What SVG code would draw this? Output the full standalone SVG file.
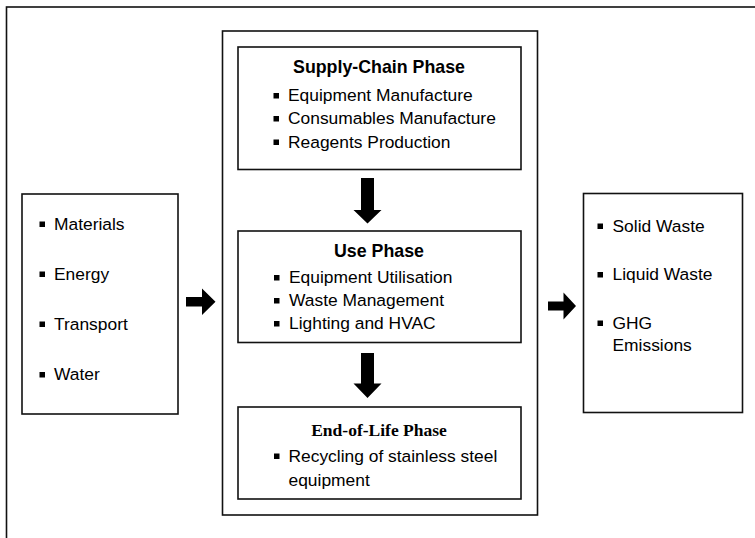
<svg xmlns="http://www.w3.org/2000/svg" width="755" height="538" viewBox="0 0 755 538">
  <defs>
    <style>
      .frame { fill: #ffffff; stroke: #111111; stroke-width: 1.6; }
      .txt { font-family: "Liberation Sans", Arial, sans-serif; font-size: 17.4px; fill: #000000; }
      .head { font-family: "Liberation Sans", Arial, sans-serif; font-size: 17.8px; font-weight: bold; fill: #000000; text-anchor: middle; }
      .head-serif { font-family: "Liberation Serif", "Times New Roman", serif; font-size: 17.5px; font-weight: bold; fill: #000000; text-anchor: middle; }
      .arrow { fill: #000000; }
    </style>
    <rect id="bullet" x="0" y="0" width="5.5" height="5.5" fill="#000000"/>
  </defs>

  <rect width="755" height="538" fill="#ffffff"/>

  <!-- outer frame, running past the right and bottom edges -->
  <rect class="frame" x="6.5" y="7" width="800" height="600"/>

  <!-- life-cycle container -->
  <g id="lifecycle">
    <rect class="frame" x="222.5" y="31" width="315" height="484"/>
  </g>

  <!-- inputs -->
  <g id="inputs">
    <rect class="frame" x="22" y="194" width="156" height="220"/>
    <use href="#bullet" x="39.5" y="221.5"/>
    <text class="txt" x="54" y="229.5">Materials</text>
    <use href="#bullet" x="39.5" y="271.5"/>
    <text class="txt" x="54" y="279.5">Energy</text>
    <use href="#bullet" x="39.5" y="321.5"/>
    <text class="txt" x="54" y="329.5">Transport</text>
    <use href="#bullet" x="39.5" y="372"/>
    <text class="txt" x="54" y="380">Water</text>
  </g>

  <!-- supply-chain phase -->
  <g id="supply-chain">
    <rect class="frame" x="238" y="47" width="283" height="122.5"/>
    <text class="head" x="379" y="72.5">Supply-Chain Phase</text>
    <use href="#bullet" x="273.5" y="93"/>
    <text class="txt" x="288" y="101">Equipment Manufacture</text>
    <use href="#bullet" x="273.5" y="116"/>
    <text class="txt" x="288" y="124">Consumables Manufacture</text>
    <use href="#bullet" x="273.5" y="139.5"/>
    <text class="txt" x="288" y="147.5">Reagents Production</text>
  </g>

  <!-- use phase -->
  <g id="use">
    <rect class="frame" x="238" y="231" width="283" height="111.5"/>
    <text class="head" x="379" y="257">Use Phase</text>
    <use href="#bullet" x="274" y="275"/>
    <text class="txt" x="289" y="283">Equipment Utilisation</text>
    <use href="#bullet" x="274" y="298"/>
    <text class="txt" x="289" y="306">Waste Management</text>
    <use href="#bullet" x="274" y="321"/>
    <text class="txt" x="289" y="329">Lighting and HVAC</text>
  </g>

  <!-- end-of-life phase -->
  <g id="end-of-life">
    <rect class="frame" x="238" y="407" width="283" height="92"/>
    <text class="head-serif" x="379" y="435.5">End-of-Life Phase</text>
    <use href="#bullet" x="274" y="453.5"/>
    <text class="txt" x="288.5" y="461.5">Recycling of stainless steel</text>
    <text class="txt" x="288.5" y="485.5">equipment</text>
  </g>

  <!-- outputs -->
  <g id="outputs">
    <rect class="frame" x="583.5" y="193.5" width="159" height="219"/>
    <use href="#bullet" x="597.5" y="223.5"/>
    <text class="txt" x="612.5" y="231.5">Solid Waste</text>
    <use href="#bullet" x="597.5" y="272"/>
    <text class="txt" x="612.5" y="280">Liquid Waste</text>
    <use href="#bullet" x="597.5" y="320.5"/>
    <text class="txt" x="612.5" y="328.5">GHG</text>
    <text class="txt" x="612.5" y="351">Emissions</text>
  </g>

  <!-- connectors: block arrows -->
  <g id="connectors">
    <path class="arrow" d="M186,297 H202 V288.5 L215.5,301.7 L202,315 V306.4 H186 Z"/>
    <path class="arrow" d="M361,178 H374 V210 H381.5 L367.5,223.5 L353.5,210 H361 Z"/>
    <path class="arrow" d="M361,353 H374 V383.5 H381.5 L367.5,398 L353.5,383.5 H361 Z"/>
    <path class="arrow" d="M548,301.5 H563.5 V292.5 L576,306 L563.5,319.5 V310.5 H548 Z"/>
  </g>
</svg>
